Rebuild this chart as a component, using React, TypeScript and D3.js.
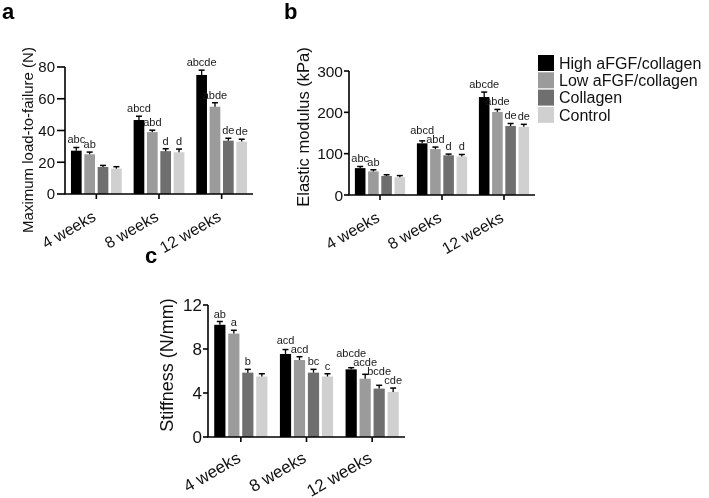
import React from "react";
import * as d3 from "d3";

const groups = ["4 weeks", "8 weeks", "12 weeks"];
const series = ["High aFGF/collagen", "Low aFGF/collagen", "Collagen", "Control"];
const colors = ["#000000", "#9b9b9b", "#6f6f6f", "#d0d0d0"];

// Panel a: Maximum load-to-failure (N); rows = series, columns = weeks
const loadMeans = [
  [27.3, 46.6, 75],
  [25, 39, 55],
  [17, 27, 33.6],
  [16, 26.3, 33],
];
const loadErrs = [
  [2, 2.4, 3],
  [1.4, 1.2, 2.5],
  [1, 1.5, 1.5],
  [1.2, 2, 1.5],
];
const loadLetters = [
  ["abc", "abcd", "abcde"],
  ["ab", "abd", "abde"],
  ["", "d", "de"],
  ["", "d", "de"],
];
const loadTicks = [0, 20, 40, 60, 80];

// Panel b: Elastic modulus (kPa)
const modMeans = [
  [65, 125, 237],
  [57, 111, 201],
  [46, 96, 167],
  [43, 93, 165],
];
const modErrs = [
  [4, 6, 12],
  [4, 5, 6],
  [3, 3, 6],
  [4, 5, 6],
];
const modLetters = [
  ["abc", "abcd", "abcde"],
  ["ab", "abd", "abde"],
  ["", "d", "de"],
  ["", "d", "de"],
];
const modTicks = [0, 100, 200, 300];

// Panel c: Stiffness (N/mm)
const stiffMeans = [
  [10.2, 7.55, 6.15],
  [9.4, 7.0, 5.3],
  [5.85, 5.85, 4.4],
  [5.5, 5.5, 4.1],
];
const stiffErrs = [
  [0.3, 0.4, 0.15],
  [0.3, 0.3, 0.4],
  [0.3, 0.3, 0.3],
  [0.25, 0.25, 0.35],
];
const stiffLetters = [
  ["ab", "acd", "abcde"],
  ["a", "acd", "acde"],
  ["b", "bc", "bcde"],
  ["", "c", "cde"],
];
const stiffTicks = [0, 4, 8, 12];

const FONT = "'Liberation Sans', Arial, Helvetica, sans-serif";

// rough Arial advance widths (em) for lowercase letters used in labels
const charW: Record<string, number> = { a: 0.556, b: 0.556, c: 0.5, d: 0.556, e: 0.556 };
const textW = (s: string, fs: number) =>
  s.split("").reduce((acc, ch) => acc + (charW[ch] ?? 0.556), 0) * fs;

type PanelProps = {
  x0: number;
  x1: number;
  yBottom: number;
  yTop: number;
  yMax: number;
  ticks: number[];
  means: number[][];
  errs: number[][];
  letters: string[][];
  yLabel: string;
  yLabelX: number;
  yLabelY: number;
  tickFont: number;
  xFont: number;
  xLabelDrop: number;
  labelFont: number;
  letterFont: number;
  tickLen: number;
  tickGap: number;
};

function Panel(p: PanelProps) {
  const y = d3.scaleLinear().domain([0, p.yMax]).range([p.yBottom, p.yTop]);
  const x = d3.scaleBand<string>().domain(groups).range([p.x0, p.x1]).padding(0);
  const groupFrac = 0.81;
  const inner = d3
    .scaleBand<string>()
    .domain(series)
    .range([0, x.bandwidth() * groupFrac])
    .paddingInner(0.2);
  const gOff = (x.bandwidth() * (1 - groupFrac)) / 2;
  const bw = inner.bandwidth();
  const cap = 3;

  // letter placement: just above the error bar; staggered upward when
  // neighbouring labels in the same group would overlap (right to left)
  const letterPos: { x: number; y: number }[][] = series.map(() => []);
  groups.forEach((g, gi) => {
    let prev: { l: number; r: number; y: number } | null = null;
    for (let si = series.length - 1; si >= 0; si--) {
      const bx = (x(g) as number) + gOff + (inner(series[si]) as number);
      const cx = bx + bw / 2;
      const top = y(p.means[si][gi] + p.errs[si][gi]);
      const txt = p.letters[si][gi];
      let ly = top - 4;
      const w = textW(txt, p.letterFont);
      const l = cx - w / 2;
      const r = cx + w / 2;
      if (txt && prev && r - prev.l > 2) ly = Math.min(ly, prev.y - 9);
      letterPos[si][gi] = { x: cx, y: ly };
      if (txt) prev = { l, r, y: ly };
    }
  });

  return (
    <g fontFamily={FONT}>
      {series.map((s, si) =>
        groups.map((g, gi) => {
          const bx = (x(g) as number) + gOff + (inner(s) as number);
          const v = p.means[si][gi];
          const e = p.errs[si][gi];
          const cx = bx + bw / 2;
          const top = y(v + e);
          const lp = letterPos[si][gi];
          return (
            <g key={s + g}>
              <rect x={bx} y={y(v)} width={bw} height={p.yBottom - y(v)} fill={colors[si]} />
              <line x1={cx} x2={cx} y1={y(v)} y2={top} stroke="#000" strokeWidth={1.3} />
              <line x1={cx - cap} x2={cx + cap} y1={top} y2={top} stroke="#000" strokeWidth={1.5} />
              {p.letters[si][gi] && (
                <text x={lp.x} y={lp.y} textAnchor="middle" fontSize={p.letterFont} fill="#1a1a1a">
                  {p.letters[si][gi]}
                </text>
              )}
            </g>
          );
        })
      )}
      {/* y axis */}
      <line x1={p.x0} x2={p.x0} y1={p.yBottom} y2={p.yTop} stroke="#000" strokeWidth={1.6} />
      {p.ticks.map((t) => (
        <g key={t}>
          <line x1={p.x0 - p.tickLen} x2={p.x0} y1={y(t)} y2={y(t)} stroke="#000" strokeWidth={1.6} />
          <text
            x={p.x0 - p.tickLen - p.tickGap}
            y={y(t)}
            dy="0.36em"
            textAnchor="end"
            fontSize={p.tickFont}
            fill="#111"
          >
            {t}
          </text>
        </g>
      ))}
      {/* x axis */}
      <line x1={p.x0 - 0.8} x2={p.x1} y1={p.yBottom} y2={p.yBottom} stroke="#000" strokeWidth={1.6} />
      {groups.map((g) => {
        const tx = (x(g) as number) + x.bandwidth() / 2;
        return (
          <g key={g}>
            <line x1={tx} x2={tx} y1={p.yBottom} y2={p.yBottom + 5} stroke="#000" strokeWidth={1.6} />
            <text
              transform={`translate(${tx - 5},${p.yBottom + p.xLabelDrop}) rotate(-30)`}
              textAnchor="end"
              dy="0.7em"
              fontSize={p.xFont}
              fill="#111"
            >
              {g}
            </text>
          </g>
        );
      })}
      <text
        transform={`translate(${p.yLabelX},${p.yLabelY}) rotate(-90)`}
        textAnchor="middle"
        dy="0.35em"
        fontSize={p.labelFont}
        fill="#111"
      >
        {p.yLabel}
      </text>
    </g>
  );
}

export default function App() {
  return (
    <svg
      width={709}
      height={498}
      style={{ position: "absolute", left: 0, top: 0, background: "#fff", willChange: "transform" }}
    >
      <rect width={709} height={498} fill="#fff" />
      <g fontFamily={FONT} fontWeight="bold" fontSize={22}>
        <text x={2} y={19}>a</text>
        <text x={284} y={19}>b</text>
        <text x={145} y={263}>c</text>
      </g>
      <Panel
        x0={65}
        x1={253}
        yBottom={194}
        yTop={67}
        yMax={80}
        ticks={loadTicks}
        means={loadMeans}
        errs={loadErrs}
        letters={loadLetters}
        yLabel="Maximum load-to-failure (N)"
        yLabelX={28}
        yLabelY={140}
        tickFont={15}
        xFont={16}
        xLabelDrop={16}
        labelFont={15}
        letterFont={11}
        tickLen={8}
        tickGap={2}
      />
      <Panel
        x0={349}
        x1={535}
        yBottom={195}
        yTop={71}
        yMax={300}
        ticks={modTicks}
        means={modMeans}
        errs={modErrs}
        letters={modLetters}
        yLabel="Elastic modulus (kPa)"
        yLabelX={303}
        yLabelY={127}
        tickFont={15.5}
        xFont={16}
        xLabelDrop={16}
        labelFont={16.5}
        letterFont={11}
        tickLen={5}
        tickGap={1}
      />
      <Panel
        x0={208}
        x1={405}
        yBottom={437}
        yTop={305}
        yMax={12}
        ticks={stiffTicks}
        means={stiffMeans}
        errs={stiffErrs}
        letters={stiffLetters}
        yLabel="Stiffness (N/mm)"
        yLabelX={167}
        yLabelY={365}
        tickFont={17}
        xFont={17}
        xLabelDrop={14}
        labelFont={18}
        letterFont={11}
        tickLen={5}
        tickGap={1}
      />
      <g fontFamily={FONT} fontSize={16}>
        {series.map((s, i) => (
          <g key={s}>
            <rect x={538} y={55 + i * 17.3} width={16} height={16} fill={colors[i]} />
            <text x={559} y={55 + i * 17.3 + 8} dy="0.36em" fill="#111">
              {s}
            </text>
          </g>
        ))}
      </g>
    </svg>
  );
}
